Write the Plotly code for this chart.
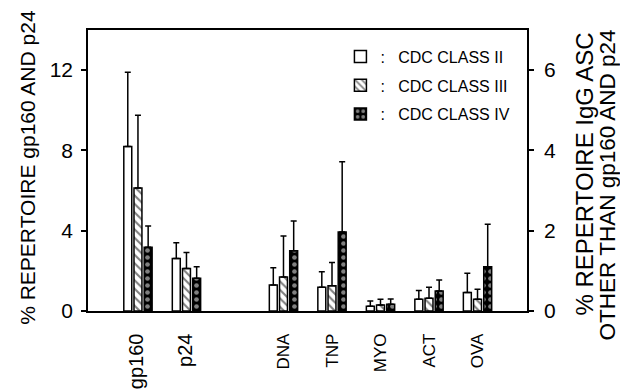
import plotly.graph_objects as go

# ---- data ----
cats_left = ["gp160", "p24"]
cats_right = ["DNA", "TNP", "MYO", "ACT", "OVA"]
spacer = " "
category_order = cats_left + [spacer] + cats_right

classes = [":\u00a0\u00a0\u00a0CDC CLASS II", ":\u00a0\u00a0\u00a0CDC CLASS III", ":\u00a0\u00a0\u00a0CDC CLASS IV"]

# left axis (% repertoire gp160 and p24)
left_vals = {
    "II": [8.2, 2.62],
    "III": [6.13, 2.12],
    "IV": [3.18, 1.63],
}
left_err = {
    "II": [3.7, 0.78],
    "III": [3.62, 0.80],
    "IV": [1.06, 0.57],
}
# right axis (% repertoire IgG ASC other than gp160 and p24)
right_vals = {
    "II": [0.65, 0.59, 0.12, 0.29, 0.46],
    "III": [0.85, 0.63, 0.15, 0.32, 0.29],
    "IV": [1.50, 1.97, 0.17, 0.50, 1.10],
}
right_err = {
    "II": [0.43, 0.39, 0.13, 0.22, 0.48],
    "III": [1.02, 0.58, 0.14, 0.27, 0.25],
    "IV": [0.74, 1.75, 0.13, 0.27, 1.06],
}

left_ticks = [0, 4, 8, 12]
right_ticks = [0, 2, 4, 6]

FONT = "Liberation Sans, Arial, Helvetica, sans-serif"

patterns = {
    "II": dict(shape="", bgcolor="white"),
    "III": dict(shape="\\", fgcolor="black", bgcolor="white", size=6, solidity=0.35),
    "IV": dict(shape=".", fgcolor="white", bgcolor="black", size=7, solidity=0.35),
}

fig = go.Figure()
for key, name in zip(["II", "III", "IV"], classes):
    fig.add_trace(go.Bar(
        x=cats_left, y=left_vals[key], name=name, legendgroup=key,
        yaxis="y", offsetgroup=key,
        marker=dict(color="white", line=dict(color="black", width=1.5), pattern=patterns[key]),
        error_y=dict(type="data", array=left_err[key], arrayminus=[0] * len(cats_left),
                     symmetric=False, color="black", thickness=1.5, width=3),
    ))
    fig.add_trace(go.Bar(
        x=cats_right, y=right_vals[key], name=name, legendgroup=key, showlegend=False,
        yaxis="y2", offsetgroup=key,
        marker=dict(color="white", line=dict(color="black", width=1.5), pattern=patterns[key]),
        error_y=dict(type="data", array=right_err[key], arrayminus=[0] * len(cats_right),
                     symmetric=False, color="black", thickness=1.5, width=3),
    ))

ticktext = []
for c in category_order:
    if c in cats_left:
        ticktext.append("<span style='font-size:20px'>" + c + "</span>")
    else:
        ticktext.append(c)

fig.update_layout(
    width=620, height=391,
    margin=dict(l=88, r=93, t=30, b=80, autoexpand=False),
    paper_bgcolor="white", plot_bgcolor="white",
    barmode="group", bargap=0.37, bargroupgap=0.22,
    font=dict(family=FONT, color="black"),
    showlegend=True,
    legend=dict(x=0.575, y=0.966, xanchor="left", yanchor="top",
                font=dict(size=16, family=FONT), bgcolor="rgba(0,0,0,0)",
                tracegroupgap=5, itemwidth=30),
    xaxis=dict(
        type="category", categoryorder="array", categoryarray=category_order,
        tickvals=category_order, ticktext=ticktext, automargin=False,
        range=[-1.03, 8.02], tickangle=-90, ticks="", showgrid=False,
        showline=True, linecolor="black", linewidth=1.5, mirror=True,
        tickfont=dict(size=17), ticklabelstandoff=14, zeroline=False,
    ),
    yaxis=dict(
        range=[0, 14], tickvals=left_ticks, ticks="outside", ticklen=5, tickwidth=1.5,
        tickcolor="black", showline=True, linecolor="black", linewidth=1.5, automargin=False,
        showgrid=False, zeroline=False, tickfont=dict(size=21), ticklabelstandoff=4,
    ),
    yaxis2=dict(
        range=[0, 7], tickvals=right_ticks, ticks="outside", ticklen=5, tickwidth=1.5,
        tickcolor="black", showline=True, linecolor="black", linewidth=1.5, automargin=False,
        overlaying="y", side="right", showgrid=False, zeroline=False,
        tickfont=dict(size=21), ticklabelstandoff=6,
    ),
    annotations=[
        dict(text="% REPERTOIRE gp160 AND p24", textangle=-90, xref="paper", yref="paper",
             x=-0.138, y=0.511, xanchor="center", yanchor="middle", showarrow=False,
             font=dict(size=21, family=FONT)),
        dict(text="% REPERTOIRE IgG ASC", textangle=-90, xref="paper", yref="paper",
             x=1.13, y=0.486, xanchor="center", yanchor="middle", showarrow=False,
             font=dict(size=24, family=FONT)),
        dict(text="OTHER THAN gp160 AND p24", textangle=-90, xref="paper", yref="paper",
             x=1.183, y=0.448, xanchor="center", yanchor="middle", showarrow=False,
             font=dict(size=22.5, family=FONT)),
    ],
)

fig.write_html("out.html", config={"displayModeBar": False},
               post_script="document.body.style.margin='0';document.body.style.overflow='hidden';")
